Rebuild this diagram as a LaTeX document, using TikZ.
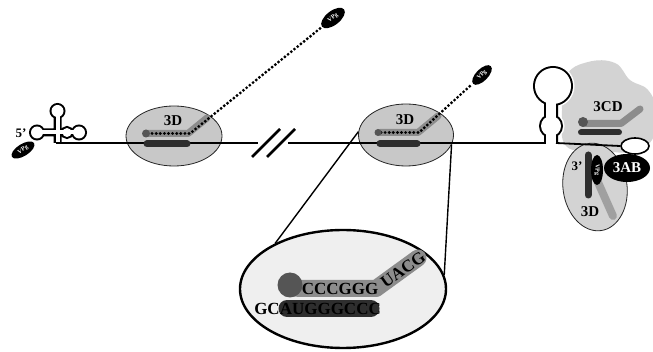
\documentclass[tikz,border=0pt]{standalone}
\usepackage{fontspec}
\setmainfont{Liberation Serif}
\usetikzlibrary{shapes.geometric}
\definecolor{enzfill}{HTML}{C8C8C8}
\definecolor{cdfill}{HTML}{D3D3D3}
\definecolor{tmpl}{HTML}{2E2E2E}
\definecolor{nasc}{HTML}{8C8C8C}
\definecolor{primer}{HTML}{555555}
\definecolor{zoomfill}{HTML}{EFEFEF}
\definecolor{lowbar}{HTML}{A0A0A0}

\begin{document}
\begin{tikzpicture}[x=1pt,y=-1pt,
  enz/.style={ellipse, draw=black!85, line width=0.8pt, fill=enzfill, inner sep=0pt},
  lab/.style={font=\bfseries\fontsize{15}{15}\selectfont, inner sep=0pt},
  smalllab/.style={font=\bfseries\fontsize{13}{13}\selectfont, inner sep=0pt},
  seq/.style={font=\bfseries\fontsize{17}{17}\selectfont, inner sep=0pt},
  vpg/.style={ellipse, fill=black, text=white, inner sep=0pt, font=\bfseries\fontsize{6}{6}\selectfont},
  rna/.style={line width=1.8pt, black},
  tbar/.style={line width=7pt, tmpl, line cap=round},
  nbar/.style={line width=7pt, nasc, line cap=round, line join=round},
  dots/.style={line width=3.2pt, black, dash pattern=on 0pt off 4.1pt, line cap=round},
  brk/.style={line width=2.6pt, black},
  zoomline/.style={line width=1.4pt, black},
]
\useasboundingbox (0,0) rectangle (653,352);

% 3CD protein body
\fill[cdfill] plot[smooth cycle, tension=0.7] coordinates
  {(566,146) (562,110) (566,76) (588,62) (615,63) (630,80) (648,90) (657,112) (652,140) (630,152) (598,150)};

% lower 3D polymerase
\node[enz, fill=cdfill, minimum width=64pt, minimum height=88pt, rotate=8] (pol3) at (595,187) {};

% 3' stem-loop
\begin{scope}
  \clip (520,40) rectangle (600,143);
  \draw[line width=7pt, white] (553,86) circle[radius=18] (551,126) circle[radius=10] (546,95) rectangle (556,150);
  \draw[line width=4pt, black] (553,86) circle[radius=18] (551,126) circle[radius=10] (546,95) rectangle (556,150);
  \fill[white] (553,86) circle[radius=18];
  \fill[white] (551,126) circle[radius=10];
  \fill[white] (546,95) rectangle (556,150);
\end{scope}

% 5' cloverleaf
\begin{scope}
  \clip (20,90) rectangle (100,143);
  \draw[line width=4pt, black] (57.5,111) circle[radius=6] (37,132.5) circle[radius=6]
       (67,132.5) circle[radius=4.5] (79,132.5) circle[radius=6]
       (37,130.5) rectangle (79,134.5) (55.5,112) rectangle (59.5,150);
  \fill[white] (57.5,111) circle[radius=6];
  \fill[white] (37,132.5) circle[radius=6];
  \fill[white] (67,132.5) circle[radius=4.5];
  \fill[white] (79,132.5) circle[radius=6];
  \fill[white] (37,130.5) rectangle (79,134.5);
  \fill[white] (55.5,112) rectangle (59.5,150);
\end{scope}

% polymerases on the template
\node[enz, minimum width=96pt, minimum height=60pt] (pol1) at (174,136) {};
\node[enz, minimum width=95pt, minimum height=62pt] (pol2) at (406,135) {};

% magnified view
\node[ellipse, draw, line width=2.4pt, fill=zoomfill, minimum width=206pt, minimum height=118pt, inner sep=0pt] (zoom) at (343,289) {};
\draw[zoomline] (pol2.176) -- (zoom.146);
\draw[zoomline] (pol2.-12) -- (zoom.8);

% template RNA
\coordinate (r5) at (55.5,143);
\coordinate (b1) at (258,143);
\coordinate (b2) at (288,143);
\coordinate (sl1) at (546,143);
\coordinate (sl2) at (556,143);
\draw[rna] (r5) -- (b1);
\draw[rna] (b2) -- (sl1);

% break marks
\coordinate (k1a) at (252,157); \coordinate (k1b) at (280,129);
\coordinate (k2a) at (267,157); \coordinate (k2b) at (295,129);
\draw[brk] (k1a) -- (k1b);
\draw[brk] (k2a) -- (k2b);

% VPg proteins
\node[vpg, rotate=32, minimum width=26pt, minimum height=12pt] (vpgC) at (23,150) {VPg};
\node[vpg, rotate=38, minimum width=28pt, minimum height=14pt] (vpgA) at (333,18) {VPg};
\node[vpg, rotate=45, minimum width=25pt, minimum height=12pt] (vpgB) at (482,75) {VPg};

% first elongating complex
\draw[tbar] (147,144) -- (187,144);
\draw[nbar] (147,133.5) -- (188,133.5) -- (207,118);
\coordinate (d1s) at (148,133.5);
\coordinate (d1k) at (190,133.5);
\draw[dots] (d1s) -- (d1k) -- (vpgA);
\fill[primer] (146,133.5) circle[radius=4];

% second elongating complex
\draw[tbar] (380,143.5) -- (417,143.5);
\draw[nbar] (380,132.5) -- (418,132.5) -- (438,116);
\coordinate (d2s) at (381,132.5);
\coordinate (d2k) at (419,132.5);
\draw[dots] (d2s) -- (d2k) -- (vpgB);
\fill[primer] (378,132.5) circle[radius=3.5];

% inside the magnified view
\draw[line width=17pt, nasc, line cap=round, line join=round] (298,288.5) -- (376,288.5) -- (418,258);
\draw[line width=17pt, tmpl, line cap=round] (287,308.5) -- (371,308.5);
\fill[primer] (290,285) circle[radius=12.5];
\node[seq] (cccggg) at (340,289) {CCCGGG};
\node[seq, anchor=east] (tseq) at (381,309) {GCAUGGGCCC};
\node[seq, rotate=35] (uacg) at (403,270) {UACG};

% 3CD contents
\draw[line width=7pt, nasc, line cap=round, line join=round] (583,123.5) -- (621,123.5) -- (640,109);
\draw[tbar, line width=6pt] (581,132.5) -- (619,132.5);
\fill[primer] (583,122) circle[radius=5];

% curl of the 3' end
\node[ellipse, draw, line width=1.6pt, fill=white, minimum width=28pt, minimum height=16pt, inner sep=0pt] (curl) at (635,146) {};
\draw[rna] (sl2) -- (curl.180);

% lower 3D contents
\draw[line width=8pt, lowbar, line cap=round] (597,180) -- (613,216);
\draw[tbar] (588,155) -- (588,195);
\node[vpg, rotate=-90, minimum width=30pt, minimum height=12pt] (vpgD) at (597,170) {VPg};
\node[ellipse, fill=black, text=white, minimum width=46pt, minimum height=28pt, inner sep=0pt,
      font=\bfseries\fontsize{15}{15}\selectfont] (ab) at (627,168) {3AB};

% labels
\node[lab] (l1) at (173,121) {3D};
\node[lab] (l2) at (405,120) {3D};
\node[lab] (l3) at (608,107) {3CD};
\node[lab] (l4) at (590,212) {3D};
\node[smalllab] (l5) at (21,133) {5'};
\node[smalllab] (l6) at (577,166) {3'};
\end{tikzpicture}
\end{document}
